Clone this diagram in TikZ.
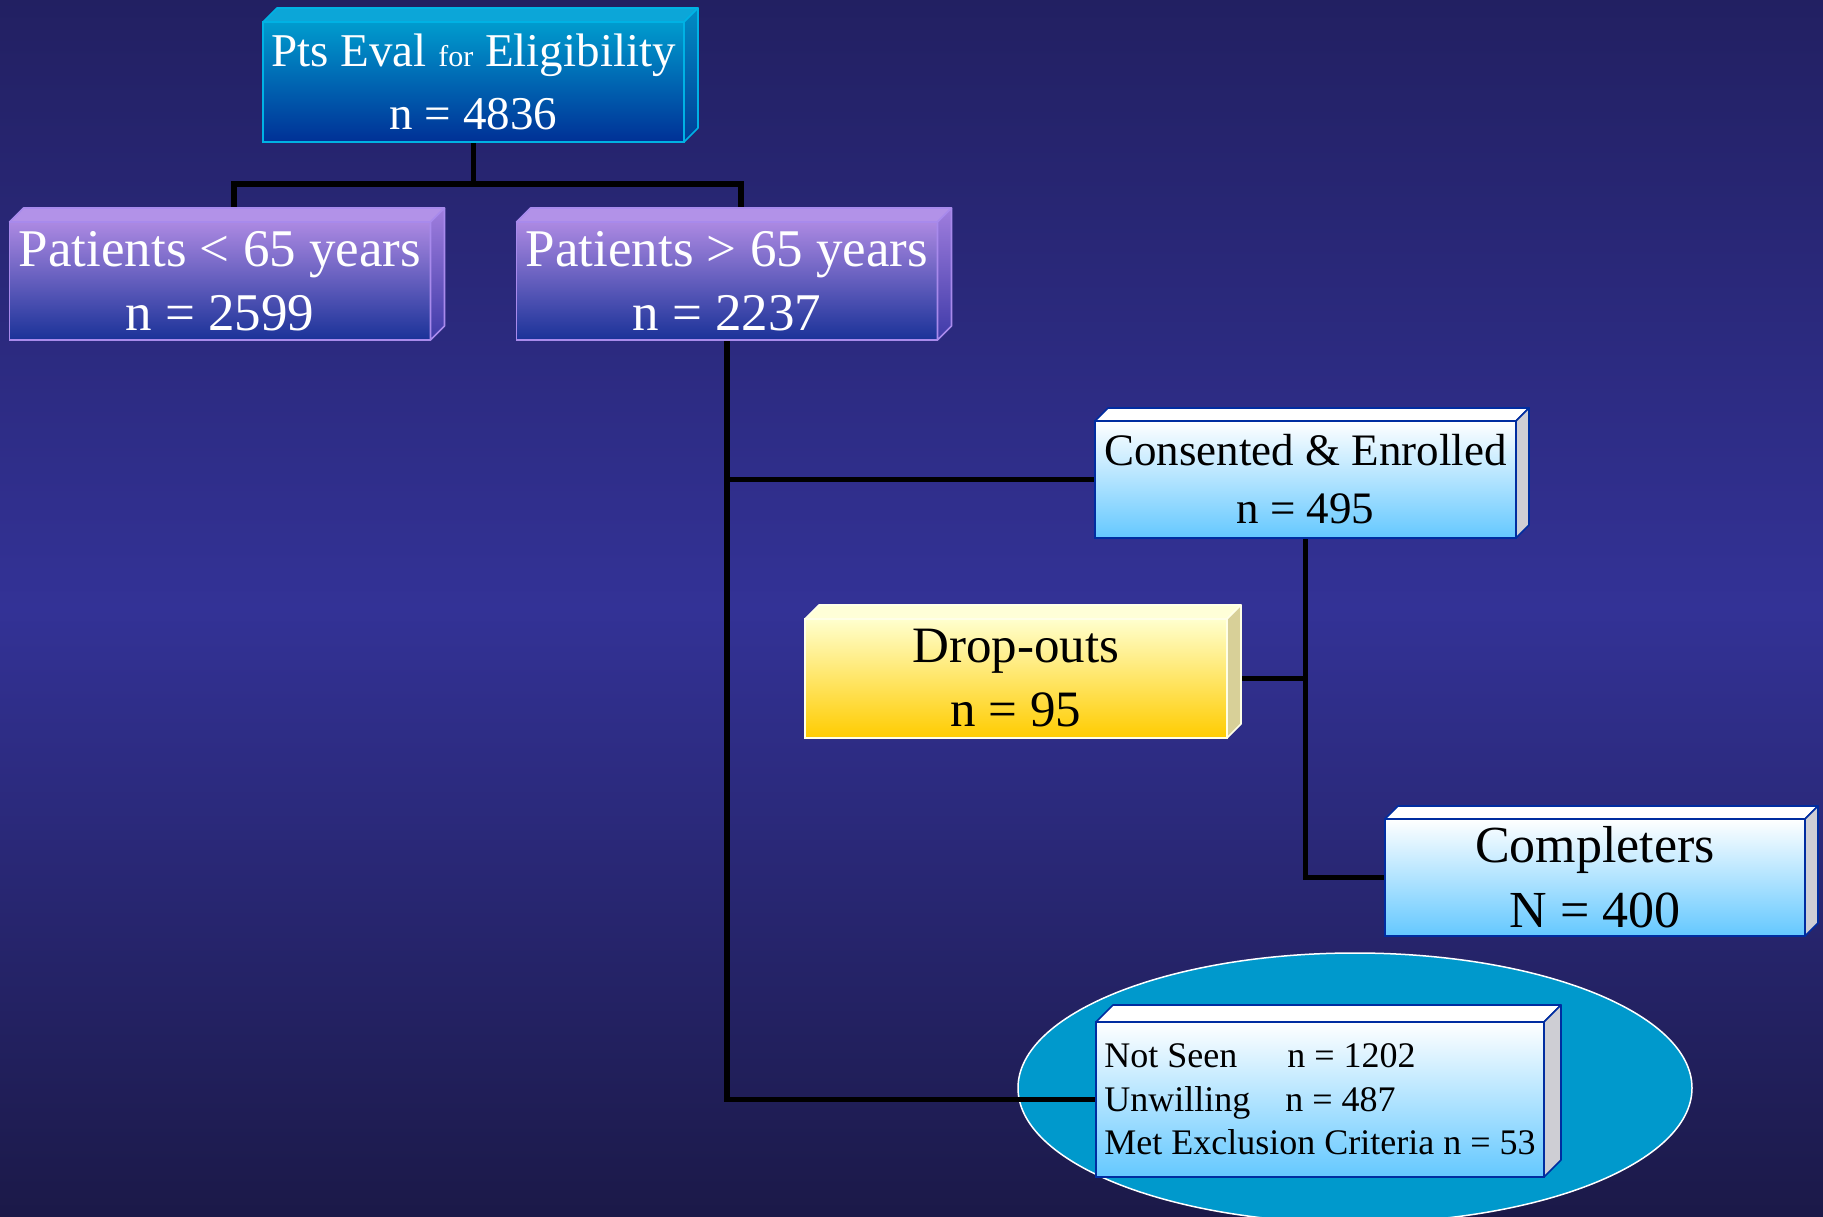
\documentclass[tikz,border=0pt]{standalone}
\usepackage{fontspec}
\setmainfont{Liberation Serif}
\usetikzlibrary{calc,shapes.geometric}
\pgfdeclarelayer{back}
\pgfdeclarelayer{wires}
\pgfsetlayers{back,wires,main}

% backdrop
\definecolor{bgtop}{RGB}{34,32,98}
\definecolor{bgmid}{RGB}{51,50,150}
\definecolor{bgbot}{RGB}{27,25,72}
% teal slab
\definecolor{tealtop}{RGB}{0,156,206}
\definecolor{tealbot}{RGB}{0,48,150}
\definecolor{tealedge}{RGB}{0,178,228}
\definecolor{tealroof}{RGB}{12,166,216}
\definecolor{tealsidea}{RGB}{0,140,196}
\definecolor{tealsideb}{RGB}{0,62,152}
% lilac slabs
\definecolor{lilactop}{RGB}{172,137,226}
\definecolor{lilacbot}{RGB}{26,50,152}
\definecolor{lilacedge}{RGB}{168,138,236}
\definecolor{lilacroof}{RGB}{178,146,232}
\definecolor{lilacsidea}{RGB}{160,126,222}
\definecolor{lilacsideb}{RGB}{62,58,168}
% sky slabs
\definecolor{skybot}{RGB}{100,200,255}
\definecolor{skyedge}{RGB}{0,45,160}
\definecolor{skyside}{RGB}{206,206,212}
% gold slab
\definecolor{goldtop}{RGB}{255,255,206}
\definecolor{goldbot}{RGB}{255,204,0}
\definecolor{goldedge}{RGB}{255,255,232}
\definecolor{goldroof}{RGB}{255,255,216}
\definecolor{goldside}{RGB}{216,208,152}
% oval
\definecolor{ovalfill}{RGB}{0,153,204}

\tikzset{
  face/.style={rectangle, line width=1.6pt, inner sep=0pt, outer sep=0pt, align=center},
  tealface/.style={face, draw=tealedge, top color=tealtop, bottom color=tealbot, text=white,
    minimum width=421pt, minimum height=120pt, font=\fontsize{47}{63}\selectfont},
  lilacface/.style={face, draw=lilacedge, top color=lilactop, bottom color=lilacbot, text=white,
    minimum width=421pt, minimum height=118pt, font=\fontsize{53}{64}\selectfont},
  skyface/.style={face, draw=skyedge, top color=white, bottom color=skybot, text=black,
    minimum width=421pt, minimum height=117pt},
  goldface/.style={face, draw=goldedge, top color=goldtop, bottom color=goldbot, text=black,
    minimum width=422pt, minimum height=119pt, font=\fontsize{51}{64}\selectfont},
  wire/.style={line width=5.5pt, draw=black},
}

% roof and right side of a slab: #1 node, #2 depth, #3 roof fill, #4 side look, #5 edge colour
\newcommand\slabfaces[5]{%
  \path[fill=#3, draw=#5, line width=1.6pt, line join=round]
    (#1.north west) -- ++(#2,-#2) -- ($(#1.north east)+(#2,-#2)$) -- (#1.north east) -- cycle;
  \path[#4, draw=#5, line width=1.6pt, line join=round]
    (#1.north east) -- ++(#2,-#2) -- ($(#1.south east)+(#2,-#2)$) -- (#1.south east) -- cycle;
}

\begin{document}
\begin{tikzpicture}[x=1pt, y=-1pt]
\useasboundingbox (0,0) rectangle (1823,1217);
\clip (0,0) rectangle (1823,1217);

\begin{pgfonlayer}{back}
  \shade[top color=bgtop, bottom color=bgbot, middle color=bgmid] (0,0) rectangle (1823,1217);
  \node[ellipse, fill=ovalfill, draw=white, line width=1.5pt, inner sep=0pt,
        minimum width=674pt, minimum height=270pt] (oval) at (1355,1088) {};
\end{pgfonlayer}

% slabs
\node[tealface] (elig) at (473.5,82) {Pts Eval {\fontsize{30}{30}\selectfont for} Eligibility\\n = 4836};
\slabfaces{elig}{14}{tealroof}{top color=tealsidea, bottom color=tealsideb}{tealedge}

\node[lilacface] (young) at (220,281) {Patients < 65 years\\n = 2599};
\slabfaces{young}{14}{lilacroof}{top color=lilacsidea, bottom color=lilacsideb}{lilacedge}

\node[lilacface] (old) at (727,281) {Patients > 65 years\\n = 2237};
\slabfaces{old}{14}{lilacroof}{top color=lilacsidea, bottom color=lilacsideb}{lilacedge}

\node[skyface, font=\fontsize{45}{58}\selectfont] (consent) at (1305.5,479.5) {Consented \& Enrolled\\n = 495};
\slabfaces{consent}{13}{white}{fill=skyside}{skyedge}

\node[goldface] (drop) at (1016,678.5) {Drop-outs\\n = 95};
\slabfaces{drop}{14}{goldroof}{fill=goldside}{goldedge}

\node[skyface, minimum width=420pt, font=\fontsize{52}{65}\selectfont] (done) at (1595,877.5) {Completers\\N = 400};
\slabfaces{done}{13}{white}{fill=skyside}{skyedge}

\node[skyface, minimum width=448pt, minimum height=155pt, align=left,
      font=\fontsize{36}{43.5}\selectfont] (screened) at (1320,1099.5)
  {Not Seen\hspace{50pt}n = 1202\\Unwilling\hspace{35pt}n = 487\\Met Exclusion Criteria n = 53};
\slabfaces{screened}{17}{white}{fill=skyside}{skyedge}

% connectors
\begin{pgfonlayer}{wires}
  \draw[wire] (elig.south) -- ++(0,42) coordinate (split);
  \draw[wire] ($(young.north)+(14,-14)$) |- (split) -| ($(old.north)+(14,-14)$);
  \draw[wire] (old.south) |- (screened.west);
  \draw[wire] (old.south |- consent.west) -- (consent.west);
  \draw[wire] (consent.south) |- (done.west);
  \draw[wire] (drop.east) -- (drop.east -| consent.south);
\end{pgfonlayer}
\end{tikzpicture}
\end{document}
